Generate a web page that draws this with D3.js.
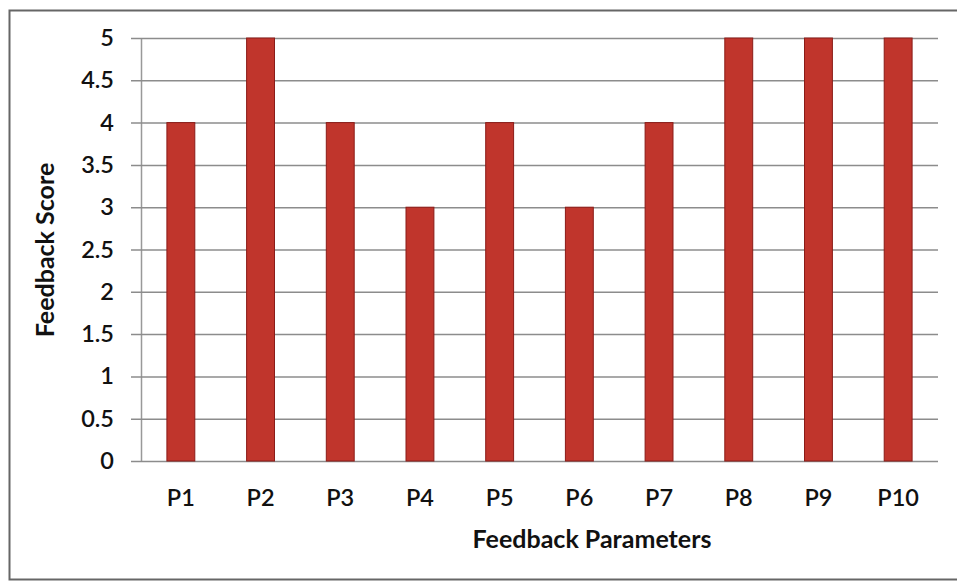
<!DOCTYPE html>
<html><head><meta charset="utf-8">
<script src="https://cdn.jsdelivr.net/npm/d3@7"></script>
<style>body{margin:0;background:#fff;} svg{display:block;}</style>
</head><body>
<svg id="chart" width="957" height="583"></svg>
<script>
const categories = ["P1","P2","P3","P4","P5","P6","P7","P8","P9","P10"];
const scores = [4,5,4,3,4,3,4,5,5,5];
const yTicks = [0,0.5,1,1.5,2,2.5,3,3.5,4,4.5,5];

(function(){
const svg = d3.select("#chart");
const font = "Lato, 'Open Sans', sans-serif";
svg.append("rect").attr("x",9.5).attr("y",10.5).attr("width",960).attr("height",569)
  .attr("fill","#fff").attr("stroke","#666").attr("stroke-width",2);

const mLeft = 141, mRight = 938, mTop = 38, mBottom = 461;
const x = d3.scaleBand().domain(categories).range([mLeft,mRight]).paddingInner(0.65).paddingOuter(0.325);
const y = d3.scaleLinear().domain([0,5]).range([mBottom,mTop]);

const yAxis = svg.append("g").attr("transform",`translate(${mLeft},0)`)
  .call(d3.axisLeft(y).tickValues(yTicks).tickSize(-(mRight-mLeft)).tickSizeOuter(0).tickPadding(14)
    .tickFormat(d=>d3.format("")(d)));
yAxis.select(".domain").attr("stroke","#999").attr("stroke-width",1.5);
yAxis.selectAll(".tick line").attr("stroke","#8c8c8c").attr("stroke-width",1.5).attr("x1",-10);
yAxis.selectAll(".tick text").attr("font-family",font).attr("font-size",23.5).attr("font-weight",600).attr("fill","#111").attr("x",-27);

svg.append("g").selectAll("rect").data(scores).join("rect")
  .attr("x",(d,i)=>x(categories[i])).attr("width",x.bandwidth())
  .attr("y",d=>y(d)).attr("height",d=>y(0)-y(d))
  .attr("fill","#c0352c").attr("stroke","#8a1c18").attr("stroke-width",1);

const xAxis = svg.append("g").attr("transform",`translate(0,${mBottom})`)
  .call(d3.axisBottom(x).tickSize(0).tickPadding(28));
xAxis.select(".domain").remove();
xAxis.selectAll(".tick text").attr("font-family",font).attr("font-size",23.5).attr("font-weight",600).attr("fill","#111");

svg.append("text").attr("x",592).attr("y",548).attr("text-anchor","middle")
  .attr("font-family",font).attr("font-weight","bold").attr("font-size",25).attr("fill","#111")
  .text("Feedback Parameters");
svg.append("text").attr("transform",`translate(54,${250}) rotate(-90)`).attr("text-anchor","middle")
  .attr("font-family",font).attr("font-weight","bold").attr("font-size",25).attr("fill","#111")
  .text("Feedback Score");
})();
</script>
</body></html>
